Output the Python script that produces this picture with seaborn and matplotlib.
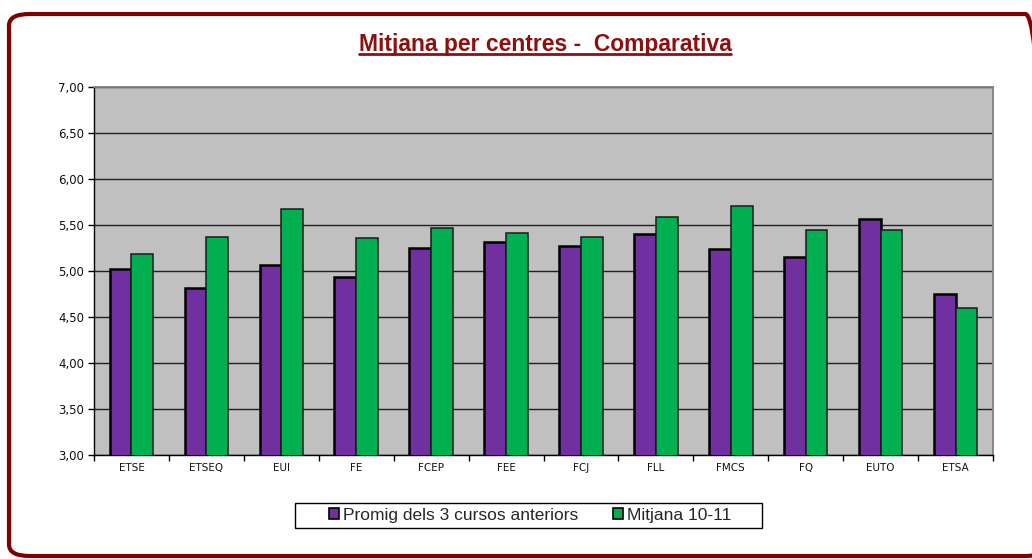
import matplotlib
matplotlib.use("Agg")
import matplotlib.pyplot as plt
import seaborn as sns
import pandas as pd
import numpy as np
from matplotlib.patches import FancyBboxPatch, Patch, Rectangle
from matplotlib.ticker import FuncFormatter, MultipleLocator

centres = ["ETSE", "ETSEQ", "EUI", "FE", "FCEP", "FEE", "FCJ", "FLL", "FMCS", "FQ", "EUTO", "ETSA"]
promig = [5.02, 4.81, 5.07, 4.94, 5.25, 5.32, 5.27, 5.40, 5.24, 5.15, 5.56, 4.75]
mitjana = [5.18, 5.37, 5.67, 5.36, 5.47, 5.41, 5.37, 5.59, 5.71, 5.45, 5.45, 4.60]
series_names = ["Promig dels 3 cursos anteriors", "Mitjana 10-11"]
colors = ["#7030A0", "#00B050"]
title = "Mitjana per centres -  Comparativa"

df = pd.DataFrame({
    "centre": centres * 2,
    "valor": promig + mitjana,
    "serie": [series_names[0]] * len(centres) + [series_names[1]] * len(centres),
})

sns.set_style("white")
plt.rcParams["font.family"] = ["Liberation Sans", "DejaVu Sans"]

W, H = 1032, 559
fig = plt.figure(figsize=(W / 100, H / 100), dpi=100)
ax = fig.add_axes([94 / W, 1 - 455 / H, (993 - 94) / W, (455 - 87) / H])

sns.barplot(data=df, x="centre", y="valor", hue="serie", order=centres,
            hue_order=series_names, palette=colors, width=0.58, saturation=1,
            edgecolor="black", linewidth=1.3, ax=ax, legend=False, zorder=3)
n = len(centres)
for i, p in enumerate(ax.patches[:2 * n]):
    if i < n:
        p.set_linewidth(1.8)
        p.set_edgecolor("black")
    else:
        p.set_linewidth(1.1)
        p.set_edgecolor("#1a1a1a")

ax.set_ylim(3.0, 7.0)
ax.set_xlim(-0.5, n - 0.5)
ax.set_facecolor("#C0C0C0")
ax.yaxis.set_major_locator(MultipleLocator(0.5))
ax.yaxis.set_major_formatter(FuncFormatter(lambda v, p: f"{v:.2f}".replace(".", ",")))
ax.grid(axis="y", color="#202020", linewidth=1.0, zorder=1)
ax.set_axisbelow(True)
ax.set_xlabel("")
ax.set_ylabel("")

ax.set_xticks(range(n))
ax.set_xticklabels(centres, fontsize=7.5, color="#111111", family="DejaVu Sans")
ax.set_xticks(np.arange(-0.5, n, 1.0), minor=True)
ax.tick_params(axis="x", which="major", length=0, pad=6)
ax.tick_params(axis="x", which="minor", length=4, width=1, color="black", direction="out", bottom=True)
ax.tick_params(axis="y", length=4, width=1, color="black", direction="out", left=True, pad=3)
for lab in ax.get_yticklabels():
    lab.set_family("DejaVu Sans")
    lab.set_fontsize(8.5)
    lab.set_color("#111111")

for side in ["top", "right"]:
    ax.spines[side].set_color("#808080")
    ax.spines[side].set_linewidth(1.3)
for side in ["left", "bottom"]:
    ax.spines[side].set_color("black")
    ax.spines[side].set_linewidth(1.0)

t = fig.text(545 / W, 1 - 44 / H, title, ha="center", va="center",
             fontsize=16.5, fontweight="bold", color="#8B1010")
fig.canvas.draw()
bb = t.get_window_extent(renderer=fig.canvas.get_renderer())
fig.add_artist(plt.Line2D([bb.x0 / W, bb.x1 / W], [(bb.y0 + 1.5) / H] * 2,
                          transform=fig.transFigure, color="#8B1010", linewidth=2.0))

handles = [Patch(facecolor=c, edgecolor="black", linewidth=1.2) for c in colors]
leg = fig.legend(handles, series_names, loc="center", bbox_to_anchor=(530 / W, 1 - 515.5 / H),
                 ncol=2, frameon=False, fontsize=12.5,
                 handlelength=0.6, handleheight=0.6, handletextpad=0.2, columnspacing=2.0,
                 borderpad=0.2, borderaxespad=0)
fig.add_artist(Rectangle((295 / W, 1 - 528 / H), (762 - 295) / W, 25 / H,
                         transform=fig.transFigure, facecolor="white", edgecolor="black",
                         linewidth=1.0, zorder=0))

border = FancyBboxPatch((9 / W, 3 / H), (1046 - 9) / W, (545 - 3) / H,
                        boxstyle="round,pad=0,rounding_size=0.02",
                        transform=fig.transFigure, facecolor="none",
                        edgecolor="#800000", linewidth=3.0, mutation_aspect=H / W * 1.9)
fig.add_artist(border)

fig.savefig("out.png", dpi=100, facecolor="white")
